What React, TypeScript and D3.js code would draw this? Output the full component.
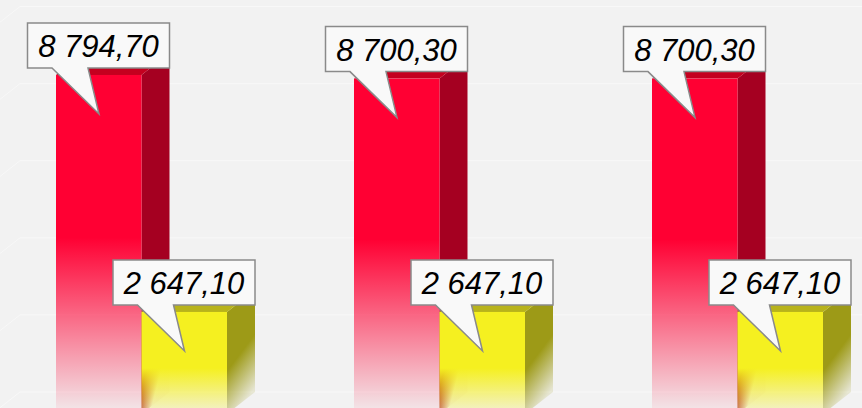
import React from "react";
import * as d3 from "d3";

const categories = ["A", "B", "C"];
const seriesNames = ["red", "yellow"];
const redValues = [8794.7, 8700.3, 8700.3];
const yellowValues = [2647.1, 2647.1, 2647.1];
const gridTicks = [0, 2000, 4000, 6000, 8000, 10000];

const W = 862;
const H = 408;
const DX = 28;
const DY = -22;

const colors: Record<string, { front: string; side: string; top: string; endOp: number; fadeStart: number; sideFade: number }> = {
  red: { front: "#ff0033", side: "#a50021", top: "#c4001f", endOp: 0.03, fadeStart: 0.48, sideFade: 0.85 },
  yellow: { front: "#f5f020", side: "#9d9a17", top: "#b8b31b", endOp: 0.15, fadeStart: 0.55, sideFade: 0.6 },
};

const locale = d3.formatLocale({ decimal: ",", thousands: " ", grouping: [3], currency: ["", ""] });
const fmt = locale.format(",.2f");

export default function App() {
  const y = d3.scaleLinear().domain([0, 10000]).range([414, 414 - 385.5]);
  const x0 = d3.scalePoint().domain(categories).range([56, 652]);
  const x1 = d3.scaleBand().domain(seriesNames).range([0, 171]).padding(0);
  const bw = x1.bandwidth();

  const bars = categories.flatMap((c, i) =>
    seriesNames.map((s) => ({
      key: c + s,
      s,
      x: (x0(c) as number) + (x1(s) as number),
      v: s === "red" ? redValues[i] : yellowValues[i],
    }))
  );

  const base = y(0);

  return (
    <svg width={W} height={H} style={{ position: "absolute", left: 0, top: 0 }} fontFamily="'Liberation Sans', Arial, sans-serif">
      <defs>
        {seriesNames.map((s) => (
          <linearGradient key={s} id={"g-" + s} x1="0" y1="0" x2="0" y2="1">
            <stop offset="0" stopColor={colors[s].front} stopOpacity={1} />
            <stop offset={colors[s].fadeStart} stopColor={colors[s].front} stopOpacity={1} />
            <stop offset="1" stopColor={colors[s].front} stopOpacity={colors[s].endOp} />
          </linearGradient>
        ))}
        {seriesNames.map((s) => (
          <linearGradient key={s} id={"gs-" + s} x1="0" y1="0" x2="0.3" y2="1">
            <stop offset="0" stopColor={colors[s].side} stopOpacity={1} />
            <stop offset={colors[s].sideFade} stopColor={colors[s].side} stopOpacity={1} />
            <stop offset="1" stopColor={colors[s].side} stopOpacity={colors[s].endOp} />
          </linearGradient>
        ))}
      </defs>
      <rect x={0} y={0} width={W} height={H} fill="#f2f2f2" />
      {gridTicks.map((t) => {
        const gy = y(t) + DY;
        return (
          <path key={t} d={`M${20 - DX},${gy - DY} L20,${gy} L${W},${gy}`} fill="none" stroke="#f8f8f8" strokeWidth={1} />
        );
      })}
      {bars.map((b) => {
        const top = y(b.v);
        const c = colors[b.s];
        return (
          <g key={b.key}>
            <path
              d={`M${b.x + bw},${top} L${b.x + bw + DX},${top + DY} L${b.x + bw + DX},${base + DY} L${b.x + bw},${base} Z`}
              fill={`url(#gs-${b.s})`}
            />
            <path
              d={`M${b.x},${top} L${b.x + DX},${top + DY} L${b.x + bw + DX},${top + DY} L${b.x + bw},${top} Z`}
              fill={c.top}
            />
            <rect x={b.x} y={top} width={bw} height={base - top} fill={`url(#g-${b.s})`} />
          </g>
        );
      })}
      {bars.map((b) => {
        const top = y(b.v);
        const left = b.x - 28.5;
        const right = b.x + bw + DX;
        const bt = top - 52;
        const bb = top - 7;
        const tipX = b.x + 43;
        const tipY = top + 39;
        const d = `M${left},${bt} H${right} V${bb} H${b.x + 32} L${tipX},${tipY} L${b.x - 4},${bb} H${left} Z`;
        return (
          <g key={"c" + b.key}>
            <path d={d} fill="#f9f9f9" stroke="#8a8a8a" strokeWidth={1.5} strokeLinejoin="miter" />
            <text x={(left + right) / 2} y={top - 18} textAnchor="middle" fontSize={31} fontStyle="italic" fill="#000">
              {fmt(b.v)}
            </text>
          </g>
        );
      })}
    </svg>
  );
}
